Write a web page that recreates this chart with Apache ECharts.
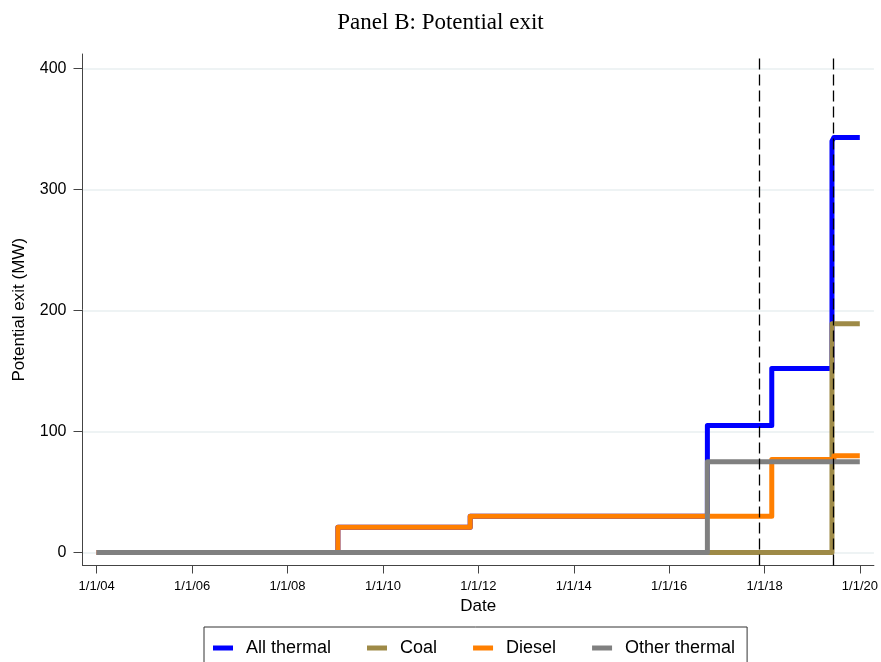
<!DOCTYPE html>
<html>
<head>
<meta charset="utf-8">
<title>Panel B: Potential exit</title>
<script src="https://cdn.jsdelivr.net/npm/echarts@6/dist/echarts.min.js"></script>
<style>
  html, body { margin: 0; padding: 0; background: #ffffff; }
  #chart { width: 881px; height: 662px; }
</style>
</head>
<body>
<div id="chart"></div>
<script>
// Step dates (value holds from each date until the next one) and MW levels
const allThermalDates = ['2004-01-01', '2009-01-21', '2011-10-31', '2016-10-20', '2018-02-25', '2019-06-01', '2019-06-16', '2019-12-31'];
const allThermalMW    = [0, 21, 30, 105, 152, 340, 343, 343];

const coalDates = ['2004-01-01', '2019-06-01', '2019-12-31'];
const coalMW    = [0, 189, 189];

const dieselDates = ['2004-01-01', '2009-01-21', '2011-10-31', '2018-02-25', '2019-06-16', '2019-12-31'];
const dieselMW    = [0, 21, 30, 77, 80, 80];

const otherDates = ['2004-01-01', '2016-10-20', '2019-12-31'];
const otherMW    = [0, 75, 75];

// Event markers (dashed verticals)
const eventDates = ['2017-11-22', '2019-06-10'];

// Axis ticks
const yTicks = [0, 100, 200, 300, 400];
const xTickDates = ['2004-01-01', '2006-01-01', '2008-01-01', '2010-01-01', '2012-01-01', '2014-01-01', '2016-01-01', '2018-01-01', '2020-01-01'];

const DAY = 86400000;
function ts(s) {
  const p = s.split('-').map(Number);
  return Date.UTC(p[0], p[1] - 1, p[2]);
}
function pairs(dates, vals) {
  return dates.map((d, i) => [ts(d), vals[i]]);
}
function fmtDate(v) {
  const d = new Date(v);
  const yy = String(d.getUTCFullYear() % 100).padStart(2, '0');
  return (d.getUTCMonth() + 1) + '/' + d.getUTCDate() + '/' + yy;
}

const SANS = '"Liberation Sans", Arial, Helvetica, sans-serif';
const SERIF = '"Liberation Serif", "Times New Roman", serif';

const colors = {
  all: '#0000ff',
  coal: '#9e8a47',
  diesel: '#ff7f00',
  other: '#808080'
};

function stepSeries(name, color, data, extra) {
  return Object.assign({
    name: name,
    type: 'line',
    step: 'end',
    data: data,
    showSymbol: false,
    symbol: 'none',
    color: color,
    lineStyle: { color: color, width: 5, cap: 'butt', join: 'round' },
    itemStyle: { color: color },
    silent: true
  }, extra || {});
}

const chart = echarts.init(document.getElementById('chart'), null, { renderer: 'canvas' });

chart.setOption({
  animation: false,
  backgroundColor: '#ffffff',
  title: {
    text: 'Panel B: Potential exit',
    left: 'center',
    top: 6,
    textStyle: { fontFamily: SERIF, fontSize: 23, fontWeight: 'normal', color: '#000000' }
  },
  grid: { left: 82.5, right: 6, top: 54, bottom: 96.5, containLabel: false },
  legend: {
    left: 204,
    top: 627,
    orient: 'horizontal',
    borderColor: '#333333',
    borderWidth: 1,
    padding: [12, 12, 12, 9],
    itemGap: 36,
    itemWidth: 20,
    itemHeight: 5,
    icon: 'rect',
    textStyle: { fontFamily: SANS, fontSize: 18, color: '#000000', padding: [0, 0, 0, 8] },
    data: ['All thermal', 'Coal', 'Diesel', 'Other thermal']
  },
  xAxis: {
    type: 'value',
    min: ts('2004-01-01') - 108.6 * DAY,
    max: ts('2020-01-01') + 107 * DAY,
    name: 'Date',
    nameLocation: 'middle',
    nameGap: 30,
    nameTextStyle: { fontFamily: SANS, fontSize: 17, color: '#000000' },
    axisLine: { show: true, onZero: false, lineStyle: { color: '#444444', width: 1 } },
    axisTick: { show: true, length: 8, customValues: xTickDates.map(ts), lineStyle: { color: '#444444', width: 1 } },
    axisLabel: {
      customValues: xTickDates.map(ts),
      formatter: fmtDate,
      margin: 14,
      fontFamily: SANS,
      fontSize: 13,
      color: '#000000'
    },
    splitLine: { show: false }
  },
  yAxis: {
    type: 'value',
    min: -10.7,
    max: 412,
    name: 'Potential exit (MW)',
    nameLocation: 'middle',
    nameGap: 55,
    nameTextStyle: { fontFamily: SANS, fontSize: 17, color: '#000000' },
    axisLine: { show: true, onZero: false, lineStyle: { color: '#444444', width: 1 } },
    axisTick: { show: true, length: 9, customValues: yTicks, lineStyle: { color: '#444444', width: 1 } },
    axisLabel: {
      customValues: yTicks,
      margin: 16,
      fontFamily: SANS,
      fontSize: 16,
      color: '#000000'
    },
    splitLine: { show: true, lineStyle: { color: '#e8eff1', width: 1.5 } }
  },
  series: [
    stepSeries('All thermal', colors.all, pairs(allThermalDates, allThermalMW), {
      markLine: {
        silent: true,
        symbol: ['none', 'none'],
        label: { show: false },
        lineStyle: { color: '#000000', type: [11, 5], width: 1.3 },
        data: eventDates.map(d => ({ xAxis: ts(d) }))
      }
    }),
    stepSeries('Coal', colors.coal, pairs(coalDates, coalMW)),
    stepSeries('Diesel', colors.diesel, pairs(dieselDates, dieselMW)),
    stepSeries('Other thermal', colors.other, pairs(otherDates, otherMW))
  ]
});
</script>
</body>
</html>
